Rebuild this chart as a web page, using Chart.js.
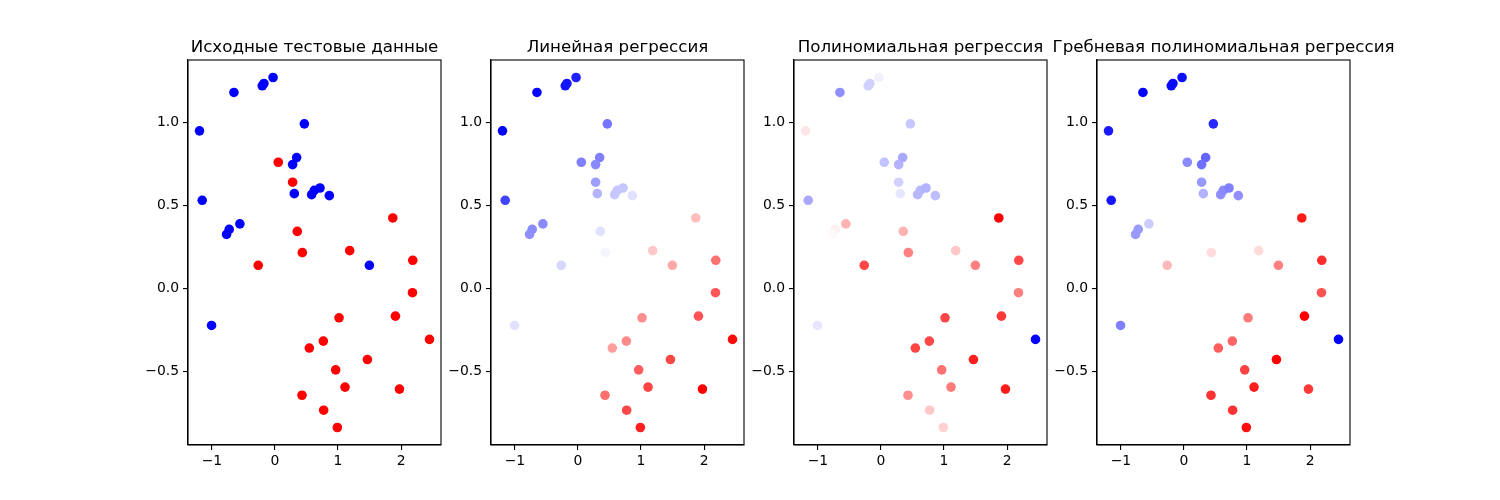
<!DOCTYPE html>
<html>
<head>
<meta charset="utf-8">
<script src="https://cdn.jsdelivr.net/npm/chart.js@4.4.1/dist/chart.umd.min.js"></script>
<style>
	body { margin: 0; background: #fff; }
	#fig { position: relative; width: 1500px; height: 500px; overflow: hidden; background: #fff; }
	#fig canvas { position: absolute; top: 0; }
</style>
</head>
<body>
<div id="fig"></div>
<script>
// same test points in every panel
const xs = [-0.03, -0.65, -0.201, -0.175, -1.196, 0.466, 0.053, 0.344, 0.28, 0.28,
	0.307, 0.582, 0.624, 0.714, 0.862, -1.153, -0.556, -0.725, -0.767, 1.868,
	0.354, 0.434, 1.185, -0.265, 1.497, 2.185, 2.18, -1.005, 1.016, 1.91,
	2.45, 0.767, 0.545, 1.466, 0.963, 1.111, 1.974, 0.429, 0.772, 0.989];
const ys = [1.271, 1.181, 1.221, 1.235, 0.95, 0.992, 0.761, 0.789, 0.747, 0.641,
	0.572, 0.566, 0.592, 0.606, 0.56, 0.532, 0.39, 0.357, 0.327, 0.426,
	0.345, 0.217, 0.229, 0.141, 0.141, 0.171, -0.024, -0.221, -0.175, -0.165,
	-0.305, -0.315, -0.357, -0.426, -0.488, -0.592, -0.604, -0.641, -0.731, -0.835];

// values in [0, 1], coloured with bwr
const trueLabels = [0, 0, 0, 0, 0, 0, 1, 0, 0, 1,
	0, 0, 0, 0, 0, 0, 0, 0, 0, 1,
	1, 1, 1, 1, 0, 1, 1, 0, 1, 1,
	1, 1, 1, 1, 1, 1, 1, 1, 1, 1];
const linearPred = [0.06, 0.01, 0.04, 0.04, 0.0, 0.23, 0.25, 0.25, 0.27, 0.31,
	0.35, 0.39, 0.39, 0.39, 0.44, 0.13, 0.27, 0.27, 0.28, 0.63,
	0.44, 0.48, 0.61, 0.42, 0.67, 0.78, 0.83, 0.44, 0.72, 0.84,
	0.98, 0.73, 0.69, 0.86, 0.82, 0.87, 1.0, 0.78, 0.86, 0.94];
const polyPred = [0.47, 0.28, 0.41, 0.41, 0.55, 0.39, 0.38, 0.33, 0.35, 0.41,
	0.45, 0.36, 0.36, 0.35, 0.37, 0.33, 0.65, 0.53, 0.51, 1.0,
	0.65, 0.75, 0.61, 0.86, 0.75, 0.86, 0.75, 0.45, 0.86, 0.89,
	0.0, 0.86, 0.87, 0.94, 0.78, 0.76, 0.95, 0.72, 0.61, 0.59];
const ridgePred = [0.03, 0.0, 0.02, 0.02, 0.05, 0.08, 0.27, 0.2, 0.22, 0.3,
	0.35, 0.28, 0.27, 0.25, 0.28, 0.04, 0.4, 0.3, 0.3, 0.95,
	0.5, 0.57, 0.57, 0.64, 0.75, 0.91, 0.84, 0.25, 0.76, 1.0,
	0.0, 0.8, 0.82, 1.0, 0.87, 0.94, 0.89, 0.9, 0.9, 0.97];

const titles = ["Исходные тестовые данные", "Линейная регрессия",
	"Полиномиальная регрессия", "Гребневая полиномиальная регрессия"];
const panelValues = [trueLabels, linearPred, polyPred, ridgePred];

const xTicks = [-1, 0, 1, 2];
const yTicks = [-0.5, 0.0, 0.5, 1.0];

const axesLeft = [188, 491, 794, 1097];
const axesWidth = 253;
const yAxisWidth = 75;
const canvasWidth = 420;

const bwr = (v) => {
	let r, g, b;
	if (v < 0.5) {
		r = g = Math.round(510 * v);
		b = 255;
	} else {
		r = 255;
		g = b = Math.round(510 * (1 - v));
	}
	return `rgb(${r},${g},${b})`;
};

const minus = (s) => s.replace("-", "\u2212");

const pad = (arr) => {
	const lo = Math.min(...arr), hi = Math.max(...arr);
	const m = (hi - lo) * 0.05;
	return [lo - m, hi + m];
};
const [xMin, xMax] = pad(xs);
const [yMin, yMax] = pad(ys);

const font = { family: "'DejaVu Sans'", size: 13.9 };

// axes frame and a title centred over the plot area, like matplotlib
const frame = {
	id: "frame",
	afterDatasetsDraw(chart, args, opts) {
		const a = chart.chartArea;
		const ctx = chart.ctx;
		ctx.save();
		ctx.strokeStyle = "#000";
		ctx.lineWidth = 1.1;
		ctx.strokeRect(a.left, a.top, a.right - a.left, a.bottom - a.top);
		ctx.fillStyle = "#000";
		ctx.font = "16.7px 'DejaVu Sans'";
		ctx.textAlign = "center";
		ctx.textBaseline = "alphabetic";
		ctx.fillText(opts.text, (a.left + a.right) / 2, a.top - 8.5);
		ctx.restore();
	}
};

const fig = document.getElementById("fig");

titles.forEach((title, k) => {
	const canvas = document.createElement("canvas");
	canvas.width = canvasWidth;
	canvas.height = 500;
	canvas.style.left = (axesLeft[k] - yAxisWidth) + "px";
	fig.appendChild(canvas);

	const values = panelValues[k];
	new Chart(canvas, {
		type: "scatter",
		data: {
			datasets: [{
				data: xs.map((x, i) => ({ x: x, y: ys[i] })),
				backgroundColor: values.map(bwr),
				borderWidth: 0,
				pointRadius: 4.8,
				pointHoverRadius: 4.8
			}]
		},
		options: {
			responsive: false,
			animation: false,
			events: [],
			layout: { padding: { left: 0, right: canvasWidth - yAxisWidth - axesWidth, top: 60, bottom: 0 } },
			plugins: {
				legend: { display: false },
				tooltip: { enabled: false },
				title: { display: false },
				frame: { text: title }
			},
			scales: {
				x: {
					type: "linear",
					min: xMin,
					max: xMax,
					afterBuildTicks: (s) => { s.ticks = xTicks.map(v => ({ value: v })); },
					afterFit: (s) => { s.height = 55; },
					grid: { drawOnChartArea: false, drawTicks: true, tickLength: 5, color: "#000", lineWidth: 1.1 },
					border: { display: true, color: "#000", width: 1.1 },
					ticks: {
						color: "#000",
						font: font,
						padding: 3,
						maxRotation: 0,
						callback: (v) => minus(String(v))
					}
				},
				y: {
					type: "linear",
					min: yMin,
					max: yMax,
					afterBuildTicks: (s) => { s.ticks = yTicks.map(v => ({ value: v })); },
					afterFit: (s) => { s.width = yAxisWidth; },
					grid: { drawOnChartArea: false, drawTicks: true, tickLength: 5, color: "#000", lineWidth: 1.1 },
					border: { display: true, color: "#000", width: 1.1 },
					ticks: {
						color: "#000",
						font: font,
						padding: 4,
						callback: (v) => minus(v.toFixed(1))
					}
				}
			}
		},
		plugins: [frame]
	});
});
</script>
</body>
</html>
